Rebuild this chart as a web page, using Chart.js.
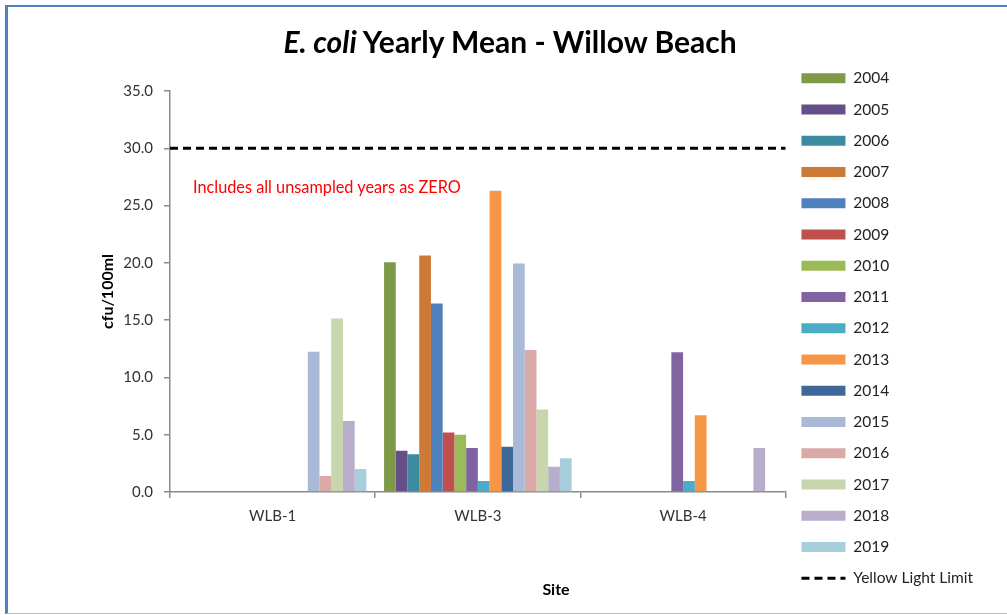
<!DOCTYPE html>
<html lang="en">
<head>
    <meta charset="UTF-8">
    <title>E. coli Yearly Mean - Willow Beach</title>
    <script src="https://cdn.jsdelivr.net/npm/chart.js@4.4.1/dist/chart.umd.min.js"></script>
    <style>
        body { margin: 0; background: #fff; }
        #wrap { position: relative; width: 1007px; height: 615px; overflow: hidden; font-family: Lato, "Open Sans", sans-serif; }
        #frame { position: absolute; left: 5px; top: 5px; width: 1020px; height: 606px;
                 border-left: 3px solid #4f81bd; border-top: 2px solid #4f81bd; border-bottom: 1px solid #a7bfe0; }
        #box { position: absolute; left: 0; top: 0; width: 1007px; height: 615px; }
        .txt { position: absolute; white-space: nowrap; line-height: 1; }
        #title { left: 510px; top: 26px; transform: translateX(-50%); font-size: 30px; font-weight: bold; color: #000; }
        #note { left: 193px; top: 179px; font-size: 16.3px; color: #ff0000; }
        #xtitle { left: 556px; top: 581px; transform: translateX(-50%); font-size: 16px; font-weight: bold; color: #000; }
    </style>
</head>
<body>
    <div id="wrap">
        <div id="frame"></div>
        <div id="box"><canvas id="chart"></canvas></div>
        <div class="txt" id="title"><i>E. coli</i> Yearly Mean - Willow Beach</div>
        <div class="txt" id="note">Includes all unsampled years as ZERO</div>
        <div class="txt" id="xtitle">Site</div>
    </div>

    <script>
        // Sites on the x axis
        const sites = ['WLB-1', 'WLB-3', 'WLB-4'];

        // One bar series per year
        const years = ['2004', '2005', '2006', '2007', '2008', '2009', '2010', '2011',
                       '2012', '2013', '2014', '2015', '2016', '2017', '2018', '2019'];
        const yearColors = ['#7e9a48', '#664f87', '#3b8ba1', '#cd7a37', '#4f81bd', '#c0504d',
                            '#9bbb59', '#8064a2', '#4bacc6', '#f79646', '#3e689a', '#aab9d8',
                            '#daa9a8', '#c7d6ac', '#b8aecb', '#a8cedb'];

        // Yearly means per site (cfu/100ml), in year order
        const wlb1 = [0, 0, 0, 0, 0, 0, 0, 0, 0, 0, 0, 12.25, 1.4, 15.15, 6.2, 2.0];
        const wlb3 = [20.05, 3.6, 3.3, 20.65, 16.45, 5.2, 5.0, 3.85, 0.95, 26.3, 3.95, 19.95, 12.4, 7.2, 2.2, 2.95];
        const wlb4 = [0, 0, 0, 0, 0, 0, 0, 12.2, 0.95, 6.7, 0, 0, 0, 0, 3.85, 0];

        // Yellow light limit, drawn edge to edge of the site axis
        const limitLabel = 'Yellow Light Limit';
        const limitX = [-0.5, 2.5];
        const limitY = [30, 30];
        const limitDash = [8, 5];

        // y axis ticks
        const yMin = 0, yMax = 35, yStep = 5;

        const siteValues = [wlb1, wlb3, wlb4];

        // sites sit at 0, 1, 2 on a linear x axis so the limit line can span the full width
        const datasets = years.map((yr, i) => ({
            type: 'bar',
            label: yr,
            data: siteValues.map((s, k) => ({ x: k, y: s[i] })),
            backgroundColor: yearColors[i],
            borderWidth: 0,
            pointStyle: 'rect',
            categoryPercentage: 0.914,
            barPercentage: 1.0
        }));

        datasets.push({
            type: 'line',
            label: limitLabel,
            data: limitX.map((x, i) => ({ x: x, y: limitY[i] })),
            borderColor: '#000',
            backgroundColor: '#000',
            borderWidth: 3,
            borderDash: limitDash,
            pointRadius: 0,
            pointStyle: 'line'
        });

        const axisGray = '#8a8a8a';

        const chart = new Chart(document.getElementById('chart'), {
            data: { datasets: datasets },
            options: {
                responsive: true,
                maintainAspectRatio: false,
                animation: false,
                layout: { padding: { left: 0, right: 24, top: 0, bottom: 13.25 } },
                plugins: {
                    title: { display: true, text: '', font: { size: 12 }, padding: { top: 0, bottom: 76.6 } },
                    tooltip: { enabled: false },
                    legend: {
                        position: 'right',
                        align: 'end',
                        labels: {
                            usePointStyle: true,
                            pointStyleWidth: 44,
                            boxHeight: 10,
                            padding: 15.75,
                            color: '#222',
                            font: { family: 'Lato', size: 15.5 },
                            generateLabels: chart => {
                                const items = Chart.defaults.plugins.legend.labels.generateLabels(chart);
                                items.forEach(it => {
                                    if (it.text === limitLabel) {
                                        it.lineDash = limitDash;
                                        it.lineWidth = 3;
                                        it.strokeStyle = '#000';
                                    }
                                });
                                return items;
                            }
                        }
                    }
                },
                scales: {
                    x: {
                        type: 'linear',
                        position: 'bottom',
                        min: -0.5,
                        max: 2.5,
                        offset: false,
                        afterBuildTicks: s => { s.ticks = sites.map((_, k) => ({ value: k })); },
                        grid: { offset: true, drawOnChartArea: false, drawTicks: true, tickLength: 6, color: axisGray, lineWidth: 1.5 },
                        border: { display: true, color: axisGray, width: 1.5 },
                        ticks: {
                            color: '#333',
                            padding: 9,
                            font: { family: 'Lato', size: 15 },
                            callback: v => sites[v]
                        },
                        afterFit: s => { s.height = 109.75; }
                    },
                    y: {
                        type: 'linear',
                        min: yMin,
                        max: yMax,
                        ticks: {
                            stepSize: yStep,
                            color: '#333',
                            padding: 11,
                            font: { family: 'Lato', size: 15 },
                            callback: v => v.toFixed(1)
                        },
                        grid: { drawOnChartArea: false, drawTicks: true, tickLength: 6, color: axisGray, lineWidth: 1.5 },
                        border: { display: true, color: axisGray, width: 1.5 },
                        title: {
                            display: true,
                            text: 'cfu/100ml',
                            color: '#000',
                            padding: { top: 98.5, bottom: 0 },
                            font: { family: 'Lato', size: 16, weight: 'bold' }
                        },
                        afterFit: s => { s.width = 170; }
                    }
                }
            }
        });

        // redraw once Lato is surely loaded so canvas text uses it
        Promise.all([
            document.fonts.load('15px Lato'),
            document.fonts.load('bold 16px Lato')
        ]).then(() => chart.update());
    </script>
</body>
</html>
